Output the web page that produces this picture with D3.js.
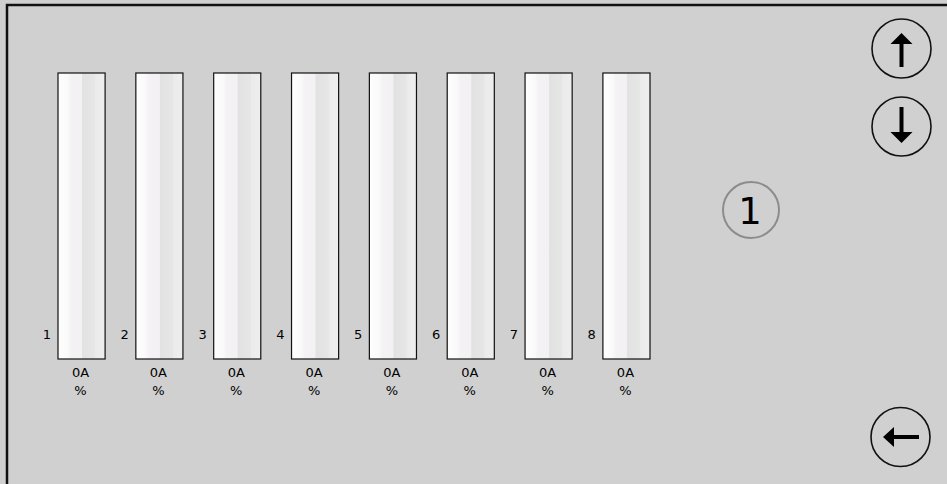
<!DOCTYPE html>
<html>
<head>
<meta charset="utf-8">
<script src="https://cdn.jsdelivr.net/npm/d3@7"></script>
<style>
  html, body { margin: 0; padding: 0; background: #d0d0d0; overflow: hidden; }
  text { font-family: 'DejaVu Sans', sans-serif; }
</style>
</head>
<body>
<div id="chart"></div>
<script>
const channels = [1, 2, 3, 4, 5, 6, 7, 8];
const levels = [0, 0, 0, 0, 0, 0, 0, 0];
const currents = ['0A', '0A', '0A', '0A', '0A', '0A', '0A', '0A'];
const percents = ['%', '%', '%', '%', '%', '%', '%', '%'];
const pageLabel = '1';

const width = 947;
const height = 484;

const svg = d3.select('#chart')
  .append('svg')
  .attr('width', width)
  .attr('height', height);

// background and frame
svg.append('rect')
  .attr('x', 0).attr('y', 0)
  .attr('width', width).attr('height', height)
  .attr('fill', '#d0d0d0');
svg.append('rect')
  .attr('x', 7).attr('y', 5)
  .attr('width', width + 10).attr('height', height + 10)
  .attr('fill', 'none')
  .attr('stroke', '#111')
  .attr('stroke-width', 2.5);

const defs = svg.append('defs');
const grad = defs.append('linearGradient')
  .attr('id', 'barGrad')
  .attr('x1', '0%').attr('x2', '100%')
  .attr('y1', '0%').attr('y2', '0%');
[
  [0, '#fefefe'], [0.2, '#fbfafb'], [0.28, '#f4f2f4'], [0.5, '#f3f1f3'],
  [0.52, '#e2e2e2'], [0.78, '#e6e6e6'], [0.8, '#ebebeb'], [1, '#eeeeee']
].forEach(s => grad.append('stop').attr('offset', s[0]).attr('stop-color', s[1]));

const xScale = d3.scaleBand()
  .domain(channels)
  .range([58, 650])
  .paddingInner(0.395)
  .paddingOuter(0);

const yScale = d3.scaleLinear()
  .domain([0, 100])
  .range([359, 73]);

const bars = svg.append('g')
  .selectAll('g')
  .data(channels)
  .enter()
  .append('g');

bars.append('rect')
  .attr('x', d => xScale(d))
  .attr('y', yScale(100))
  .attr('width', xScale.bandwidth())
  .attr('height', yScale(0) - yScale(100))
  .attr('fill', 'url(#barGrad)')
  .attr('stroke', '#111')
  .attr('stroke-width', 1.2);

// level fill (all zero)
bars.append('rect')
  .attr('x', (d, i) => xScale(d))
  .attr('y', (d, i) => yScale(levels[i]))
  .attr('width', xScale.bandwidth())
  .attr('height', (d, i) => yScale(0) - yScale(levels[i]))
  .attr('fill', '#4a90d9');

bars.append('text')
  .attr('x', d => xScale(d) - 7)
  .attr('y', 339)
  .attr('text-anchor', 'end')
  .attr('font-size', 13)
  .attr('fill', '#000')
  .text(d => d);

bars.append('text')
  .attr('x', d => xScale(d) + xScale.bandwidth() / 2 - 1)
  .attr('y', 377)
  .attr('text-anchor', 'middle')
  .attr('font-size', 13)
  .attr('fill', '#000')
  .text((d, i) => currents[i]);

bars.append('text')
  .attr('x', d => xScale(d) + xScale.bandwidth() / 2 - 1)
  .attr('y', 395)
  .attr('text-anchor', 'middle')
  .attr('font-size', 13)
  .attr('fill', '#000')
  .text((d, i) => percents[i]);

// page indicator
svg.append('circle')
  .attr('cx', 751).attr('cy', 210).attr('r', 28)
  .attr('fill', 'none')
  .attr('stroke', '#8c8c8c')
  .attr('stroke-width', 2);
svg.append('text')
  .attr('x', 750).attr('y', 224)
  .attr('text-anchor', 'middle')
  .attr('font-family', "'Liberation Sans', Arial, sans-serif")
  .attr('font-size', 37)
  .attr('fill', '#000')
  .text(pageLabel);

// buttons
function button(cx, cy, path) {
  const g = svg.append('g').attr('transform', `translate(${cx},${cy})`);
  g.append('circle')
    .attr('r', 29.5)
    .attr('fill', 'none')
    .attr('stroke', '#111')
    .attr('stroke-width', 1.6);
  g.append('path')
    .attr('d', path)
    .attr('fill', '#000');
}

button(901.5, 48.5, 'M0,-15.5 L11,-4.5 L2,-4.5 L2,18.5 L-2,18.5 L-2,-4.5 L-11,-4.5 Z');
button(901.5, 126.5, 'M0,16.5 L11,5.5 L2,5.5 L2,-19.5 L-2,-19.5 L-2,5.5 L-11,5.5 Z');
button(900.5, 437, 'M-17.5,0 L-6.5,-10 L-6.5,-2 L18.5,-2 L18.5,2 L-6.5,2 L-6.5,10 Z');
</script>
</body>
</html>
